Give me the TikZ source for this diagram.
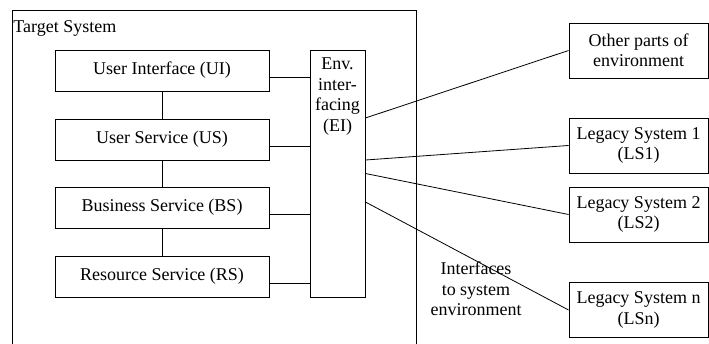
\documentclass[tikz,border=0pt]{standalone}
\usepackage{fontspec}
\setmainfont{Liberation Serif}
\usetikzlibrary{positioning}
\tikzset{layer/.style = {shape=rectangle,draw,line width=0.9pt,minimum width=214pt,minimum height=41pt,inner sep=0pt}}
\tikzset{extsys/.style = {shape=rectangle,draw,line width=0.9pt,minimum width=139pt,minimum height=55pt,align=center,inner sep=0pt}}

\begin{document}
\begin{tikzpicture}[x=1pt,y=-1pt,font=\fontsize{18}{20.5}\selectfont,line width=0.8pt]
                \useasboundingbox (0,0) rectangle (709,344);
                \clip (0,0) rectangle (709,344);

                % target system frame
                \draw[line width=0.9pt] (12,10) rectangle (416,380);
                \node[anchor=base west,inner sep=1pt] (TS) at (12,33) {Target System};

                \node[layer] (UI) at (162,70.5) {User Interface (UI)};
                \node[layer] (US) at (162,139.5) {User Service (US)};
                \node[layer] (BS) at (162,207.5) {Business Service (BS)};
                \node[layer] (RS) at (162,276.5) {Resource Service (RS)};

                \node[draw,line width=0.9pt,minimum width=55pt,minimum height=247pt,inner sep=0pt] (EI) at (337.5,173.5) {};
                \node[below=8pt of EI.north,align=center,inner sep=0pt] (EItext) {Env.\\inter-\\facing\\(EI)};

                \node[extsys] (OP) at (638.5,50.5) {Other parts of\\environment};
                \node[extsys] (LS1) at (638.5,145.5) {Legacy System 1\\(LS1)};
                \node[extsys] (LS2) at (638.5,214.5) {Legacy System 2\\(LS2)};
                \node[extsys] (LSn) at (638.5,310) {Legacy System n\\(LSn)};

                \node[align=center,inner sep=0pt] (IF) at (476,289) {Interfaces\\to system\\environment};

                \draw (UI) -- (US);
                \draw (US) -- (BS);
                \draw (BS) -- (RS);

                \draw ([yshift=-7pt]UI.east) -- ([yshift=-7pt]UI.east -| EI.west);
                \draw ([yshift=-7pt]US.east) -- ([yshift=-7pt]US.east -| EI.west);
                \draw ([yshift=-6.5pt]BS.east) -- ([yshift=-6.5pt]BS.east -| EI.west);
                \draw ([yshift=-6.5pt]RS.east) -- ([yshift=-6.5pt]RS.east -| EI.west);

                \draw ([yshift=55.5pt]EI.east) -- (OP.west);
                \draw ([yshift=13.5pt]EI.east) -- (LS1.west);
                \draw (EI.east) -- (LS2.west);
                \draw ([yshift=-28.5pt]EI.east) -- (LSn.west);
            \end{tikzpicture}
\end{document}
